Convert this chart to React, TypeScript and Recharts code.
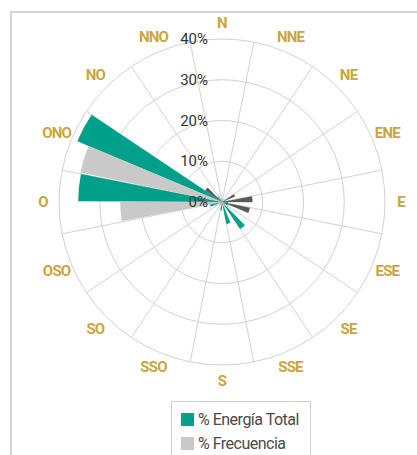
import {
  RadialBarChart,
  RadialBar,
  PolarAngleAxis,
  PolarRadiusAxis,
  PolarGrid,
  Legend,
  Cell,
} from "recharts";

const DIRECTIONS = ["N", "NNE", "NE", "ENE", "E", "ESE", "SE", "SSE", "S", "SSO", "SO", "OSO", "O", "ONO", "NO", "NNO"];
const ENERGY = [0.5, 0.3, 0.3, 0.8, 1.5, 1.5, 8, 5.5, 2, 0.8, 0.5, 3, 35.3, 38.5, 1.5, 0.8];
const FREQUENCY = [1.5, 1, 1, 3.5, 7.5, 7, 2, 1.5, 1, 1, 1, 2, 25, 35.5, 5, 2];
const RADIUS_TICKS = [0, 10, 20, 30, 40];

const TEAL = "#00a08a";
const LIGHT_GRAY = "#c9c9c9";
const DARK_GRAY = "#5a5a5a";
const GOLD = "#c9a640";
const FONT = "Roboto, 'Noto Sans', sans-serif";

// frequency bars drawn darker on these directions
const DARK_FREQ_DIRS = ["NO", "ENE", "E", "ESE"];

const SERIES = [
  { key: "energia", name: "% Energía Total", color: TEAL },
  { key: "frecuencia", name: "% Frecuencia", color: LIGHT_GRAY },
];

const data = DIRECTIONS.map((dir, i) => ({
  dir,
  energia: ENERGY[i],
  frecuencia: FREQUENCY[i],
}));

const CX = 222;
const CY = 202;
const OUTER = 163;
const LABEL_R = 179;
const STEP = 360 / DIRECTIONS.length;
// band of N runs from START to START + STEP, so N sits centred on 90deg
const START = 90 - STEP / 2;
const gridAngles = DIRECTIONS.map((_, i) => 90 + STEP / 2 - i * STEP);

const renderDirTick = (props: any) => {
  const { payload, index } = props;
  const base = typeof payload?.coordinate === "number" ? payload.coordinate : START - index * STEP;
  const a = ((base + STEP / 2) * Math.PI) / 180;
  const x = CX + LABEL_R * Math.cos(a);
  const y = CY - LABEL_R * Math.sin(a);
  return (
    <text
      x={x}
      y={y}
      textAnchor="middle"
      dominantBaseline="central"
      fill={GOLD}
      fontFamily={FONT}
      fontWeight="bold"
      fontSize={15}
      letterSpacing={-0.8}
    >
      {payload.value}
    </text>
  );
};

const renderPctTick = (props: any) => {
  const { x, y, payload } = props;
  return (
    <text
      x={x}
      y={y}
      dx={-14}
      textAnchor="end"
      dominantBaseline="central"
      fill="#333"
      fontFamily={FONT}
      fontSize={15}
    >
      {`${payload.value}%`}
    </text>
  );
};

const renderLegend = () => (
  <div
    style={{
      border: "1px solid #cfcfcf",
      background: "#fff",
      boxSizing: "border-box",
      height: 62,
      padding: "5px 0 0 9px",
      fontFamily: FONT,
      fontSize: 16,
      letterSpacing: -0.5,
      color: "#4a4a4a",
    }}
  >
    {SERIES.map((s) => (
      <div key={s.key} style={{ display: "flex", alignItems: "center", height: 24 }}>
        <span style={{ width: 13, height: 13, background: s.color, marginRight: 4 }} />
        {s.name}
      </div>
    ))}
  </div>
);

export default function App() {
  return (
    <div
      style={{
        position: "fixed",
        left: 0,
        top: 0,
        width: 417,
        height: 455,
        overflow: "hidden",
        background: "#fff",
      }}
    >
      <div
        style={{
          position: "absolute",
          left: 10,
          top: 11,
          width: 420,
          height: 460,
          borderTop: "2px solid #d4d4d4",
          borderLeft: "2px solid #d4d4d4",
        }}
      />
      <div style={{ position: "absolute", left: 0, top: 0 }}>
        <RadialBarChart
          width={417}
          height={455}
          data={data}
          cx={CX}
          cy={CY}
          innerRadius={0}
          outerRadius={OUTER}
          startAngle={START}
          endAngle={START - 360}
          layout="centric"
          barCategoryGap={0}
          barGap={0}
          margin={{ top: 0, right: 0, bottom: 0, left: 0 }}
        >
          <PolarGrid gridType="circle" polarAngles={gridAngles} stroke="#d2d2d2" />
          <PolarAngleAxis
            type="category"
            dataKey="dir"
            axisLine={false}
            tickLine={false}
            tick={renderDirTick}
          />
          {SERIES.map((s) => (
            <RadialBar
              key={s.key}
              dataKey={s.key}
              name={s.name}
              fill={s.color}
              isAnimationActive={false}
            >
              {data.map((d) => (
                <Cell
                  key={d.dir}
                  fill={s.key === "frecuencia" && DARK_FREQ_DIRS.includes(d.dir) ? DARK_GRAY : s.color}
                />
              ))}
            </RadialBar>
          ))}
          <PolarRadiusAxis
            type="number"
            domain={[0, 40]}
            ticks={RADIUS_TICKS}
            angle={90}
            axisLine={false}
            tickLine={false}
            tick={renderPctTick}
          />
          <Legend
            content={renderLegend}
            wrapperStyle={{ left: 171, top: 401, width: 140, bottom: "auto" }}
          />
        </RadialBarChart>
      </div>
    </div>
  );
}
